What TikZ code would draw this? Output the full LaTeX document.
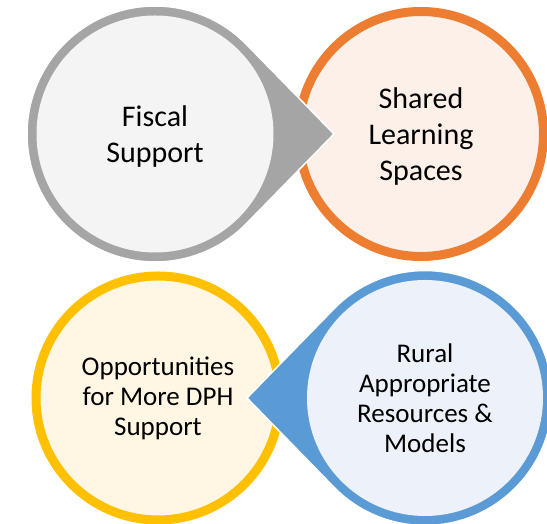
\documentclass[tikz,border=0pt]{standalone}
\usepackage{fontspec}
\setmainfont{Carlito}
\usetikzlibrary{calc}

\definecolor{grayline}{HTML}{A5A5A5}
\definecolor{grayfill}{HTML}{F4F4F4}
\definecolor{orangeline}{HTML}{ED7D31}
\definecolor{orangefill}{HTML}{FDF0E8}
\definecolor{goldline}{HTML}{FFC000}
\definecolor{goldfill}{HTML}{FFF7E3}
\definecolor{blueline}{HTML}{5B9BD5}
\definecolor{bluefill}{HTML}{EDF2FA}

\tikzset{
  ring/.style={line width=9pt},
  edge/.style={draw=white,line width=1.5pt},
  bigtxt/.style={align=center,font=\fontsize{30}{36}\selectfont,yshift=-3pt},
  smalltxt/.style={align=center,font=\fontsize{27}{30}\selectfont}
}

\begin{document}
\begin{tikzpicture}[x=1pt,y=1pt]
\useasboundingbox (0,0) rectangle (547,524);
\clip (0,0) rectangle (547,524);
% top row
\coordinate (oc) at (421,390);
\coordinate (gc) at (155,390);
\coordinate (gtip) at (334,390);
\draw[ring,draw=orangeline,fill=orangefill] (oc) circle (122.5);
\fill[grayline,edge] (gtip) -- ($(gc)+(44.6:128)$) arc[start angle=44.6,end angle=315.4,radius=128] -- cycle;
\fill[grayfill] (gc) circle (118.5);
\node[bigtxt] (fiscal) at (gc) {Fiscal\\Support};
\node[bigtxt] (shared) at (oc) {Shared\\Learning\\Spaces};
% bottom row
\coordinate (yc) at (158,126);
\coordinate (bc) at (425,126);
\coordinate (btip) at (247,126);
\draw[ring,draw=goldline,fill=goldfill] (yc) circle (122);
\fill[blueline,edge] (btip) -- ($(bc)+(-134.6:127.5)$) arc[start angle=-134.6,end angle=134.6,radius=127.5] -- cycle;
\fill[bluefill] (bc) circle (118);
\node[smalltxt] (opps) at (yc) {Opportunities\\for More DPH\\Support};
\node[smalltxt] (rural) at (bc) {Rural\\Appropriate\\Resources \&\\Models};
\end{tikzpicture}
\end{document}
